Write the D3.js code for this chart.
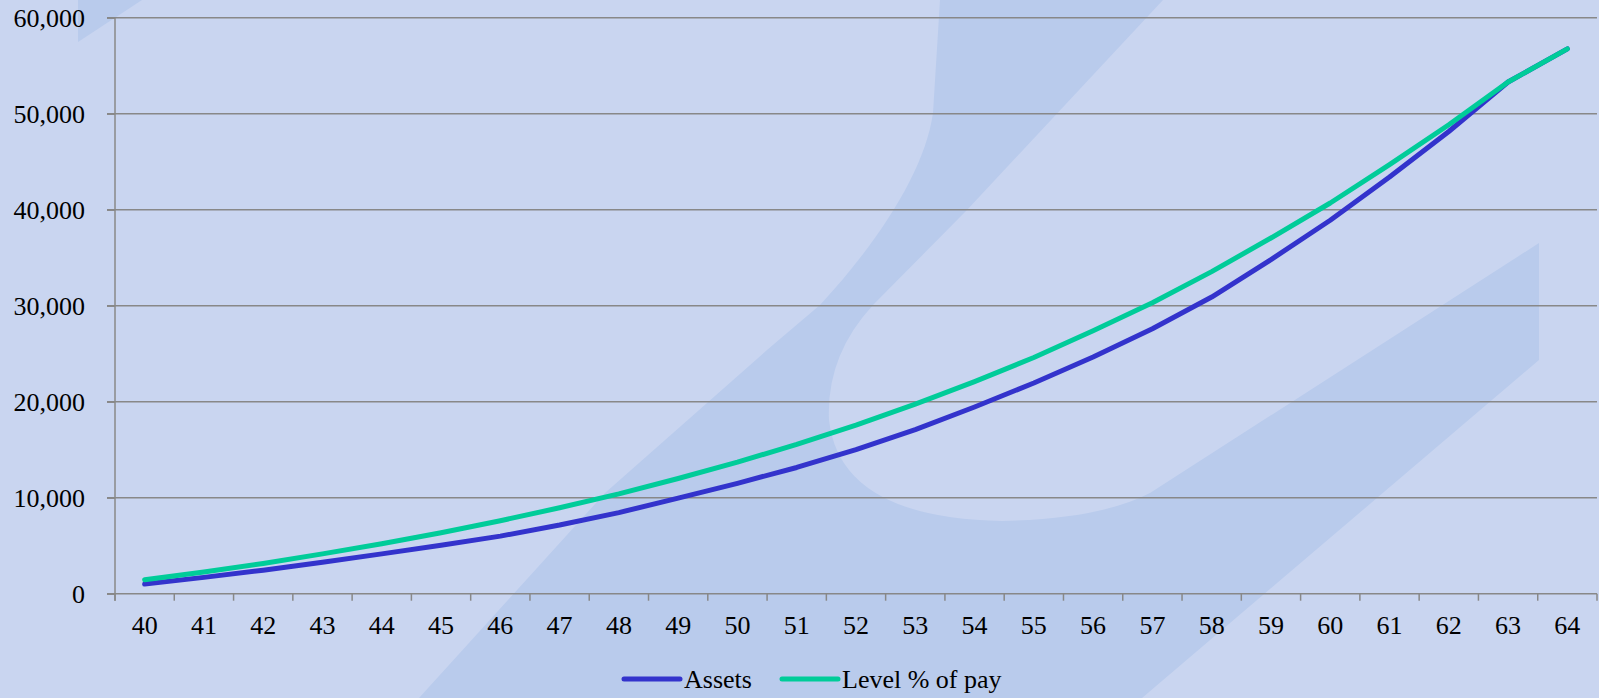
<!DOCTYPE html>
<html>
<head>
<meta charset="utf-8">
<script src="https://cdn.jsdelivr.net/npm/d3@7"></script>
<style>
	html, body { margin: 0; padding: 0; background: #c9d5f0; }
	svg { display: block; }
</style>
</head>
<body>
<div id="chart"></div>
<script>
// ages on the x axis
let ages = ['40', '41', '42', '43', '44', '45', '46', '47', '48', '49', '50', '51', '52',
	'53', '54', '55', '56', '57', '58', '59', '60', '61', '62', '63', '64'];
let assets = [1000, 1700, 2450, 3280, 4150, 5050, 6000, 7150, 8450, 9950, 11500, 13150, 15000,
	17100, 19450, 21950, 24650, 27600, 30900, 34800, 38900, 43400, 48150, 53300, 56750];
let levelPay = [1450, 2250, 3150, 4150, 5200, 6350, 7600, 8950, 10400, 12000, 13700, 15550, 17550,
	19750, 22100, 24600, 27400, 30300, 33550, 37050, 40700, 44700, 48850, 53300, 56750];
let yTicks = [0, 10000, 20000, 30000, 40000, 50000, 60000];
let seriesNames = ['Assets', 'Level % of pay'];
let seriesColors = ['#3333cc', '#00cc99'];

let width = 1599;
let height = 698;
let margins = { top: 17.7, left: 115, right: 2, bottom: 104.3 };
let font = "'Liberation Serif', 'Times New Roman', serif";

let svg = d3.select('#chart').append('svg')
	.attr('width', width)
	.attr('height', height);

svg.append('rect')
	.attr('width', width)
	.attr('height', height)
	.attr('fill', '#c9d5f0');

// faint logo watermark behind the plot
let wm = svg.append('g').attr('class', 'watermark').attr('fill', '#b9cbec');
wm.append('path')
	.attr('d', 'M940,0 L1163,0 L967,210 L873,305 Q826,356 829,420 Q840,518 1002,521 Q1100,519 1150,493 '
		+ 'L1539,243 L1539,360 L1142,698 L419,698 L605,493 L767,350 L820,305 C880,240 925,170 933,113 L940,0 Z');
wm.append('path').attr('d', 'M78,0 L142,0 L78,42 Z');

let x = d3.scaleBand()
	.domain(ages)
	.range([margins.left, width - margins.right])
	.padding(0);
let y = d3.scaleLinear()
	.domain([0, 60000])
	.range([height - margins.bottom, margins.top]);

// gridlines
svg.append('g').attr('class', 'grid')
	.selectAll('line')
	.data(yTicks)
	.join('line')
	.attr('x1', margins.left - 8)
	.attr('x2', width - margins.right)
	.attr('y1', d => y(d))
	.attr('y2', d => y(d))
	.attr('stroke', '#888888')
	.attr('stroke-width', 1.5);

// y axis
let gY = svg.append('g')
	.attr('class', 'y axis')
	.attr('transform', `translate(${margins.left},0)`)
	.call(d3.axisLeft(y).tickValues(yTicks).tickSize(8).tickPadding(22).tickFormat(d3.format(',')));
gY.select('.domain').remove();
gY.selectAll('.tick line').attr('stroke', '#888888').attr('stroke-width', 1.5);
gY.selectAll('text').attr('fill', '#000').attr('font-family', font).attr('font-size', '26px').attr('dy', '0.34em');
svg.append('line')
	.attr('x1', margins.left).attr('x2', margins.left)
	.attr('y1', y(60000)).attr('y2', y(0) + 7)
	.attr('stroke', '#888888').attr('stroke-width', 1.5);

// x axis: labels centred in each band, ticks on band edges
let gX = svg.append('g')
	.attr('class', 'x axis')
	.attr('transform', `translate(0,${y(0)})`)
	.call(d3.axisBottom(x).tickSize(0).tickPadding(22));
gX.select('.domain').remove();
gX.selectAll('text').attr('fill', '#000').attr('font-family', font).attr('font-size', '26px');
let edges = ages.map(a => x(a)).concat([x.range()[1]]);
gX.selectAll('.edge')
	.data(edges)
	.join('line')
	.attr('class', 'edge')
	.attr('x1', d => d).attr('x2', d => d)
	.attr('y1', 0).attr('y2', 7)
	.attr('stroke', '#888888').attr('stroke-width', 1.5);

// lines
let line = d3.line()
	.x((d, i) => x(ages[i]) + x.bandwidth() / 2)
	.y(d => y(d));
svg.append('g').attr('class', 'lines')
	.selectAll('path')
	.data([assets, levelPay])
	.join('path')
	.attr('d', d => line(d))
	.attr('fill', 'none')
	.attr('stroke', (d, i) => seriesColors[i])
	.attr('stroke-width', 5)
	.attr('stroke-linejoin', 'round')
	.attr('stroke-linecap', 'round');

// legend
let legendX = [624, 782];
let legend = svg.append('g').attr('class', 'legend')
	.selectAll('g')
	.data(seriesNames)
	.join('g')
	.attr('transform', (d, i) => `translate(${legendX[i]},679)`);
legend.append('line')
	.attr('x1', 0).attr('x2', 56)
	.attr('stroke', (d, i) => seriesColors[i])
	.attr('stroke-width', 5)
	.attr('stroke-linecap', 'round');
legend.append('text')
	.attr('x', 60)
	.attr('y', 9)
	.attr('font-family', font)
	.attr('font-size', '26px')
	.attr('fill', '#000')
	.text(d => d);
</script>
</body>
</html>
